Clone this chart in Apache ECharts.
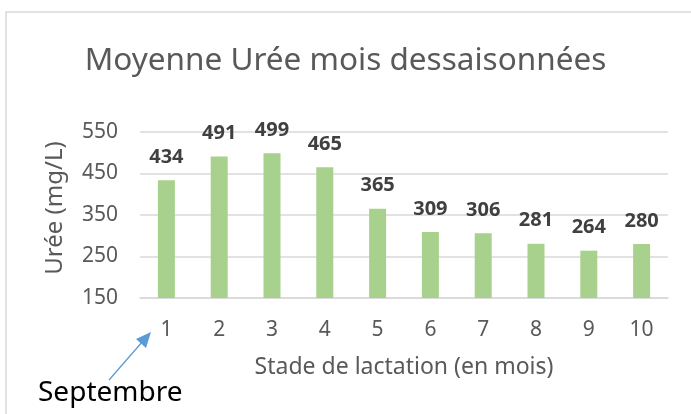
<!DOCTYPE html>
<html lang="fr">
<head>
    <meta charset="UTF-8">
    <title>Moyenne Urée mois dessaisonnées</title>
    <script src="https://cdn.jsdelivr.net/npm/echarts@6/dist/echarts.min.js"></script>
</head>
<body style="margin:0;background:#fff;">
<div id="uree" style="width:691px;height:414px;"></div>
<script>
    // données
    var mois = ['1', '2', '3', '4', '5', '6', '7', '8', '9', '10'];
    var uree = [434, 491, 499, 465, 365, 309, 306, 281, 264, 280];

    var myChart = echarts.init(document.getElementById('uree'));
    var font = '"Noto Sans", "Open Sans", sans-serif';
    var option = {
        animation: false,
        textStyle: { fontFamily: font },
        title: {
            text: 'Moyenne Urée mois dessaisonnées',
            left: 'center',
            top: 40,
            textStyle: { fontSize: 31.5, fontWeight: 'normal', color: '#595959', fontFamily: font }
        },
        grid: { left: 140, right: 23, top: 132, bottom: 116 },
        xAxis: {
            type: 'category',
            data: mois,
            name: 'Stade de lactation (en mois)',
            nameLocation: 'middle',
            nameGap: 58,
            nameTextStyle: { fontSize: 23, color: '#595959' },
            axisLine: { lineStyle: { color: '#D9D9D9', width: 1.5 } },
            axisTick: { show: false },
            axisLabel: { fontSize: 21, color: '#595959', margin: 22 }
        },
        yAxis: {
            type: 'value',
            min: 150,
            max: 550,
            interval: 100,
            name: 'Urée (mg/L)',
            nameLocation: 'middle',
            nameGap: 73,
            nameTextStyle: { fontSize: 24, color: '#595959', padding: [0, 0, 0, 14] },
            axisLine: { show: false },
            axisTick: { show: false },
            axisLabel: { fontSize: 21, color: '#595959', margin: 22 },
            splitLine: { lineStyle: { color: '#D9D9D9', width: 1.5 } }
        },
        series: [{
            type: 'bar',
            data: uree,
            barWidth: 17,
            itemStyle: { color: '#A9D18E' },
            label: {
                show: true,
                position: 'top',
                distance: 13,
                fontSize: 20,
                fontWeight: 'bold',
                color: '#404040'
            }
        }],
        graphic: [
            {   // cadre du graphique
                type: 'polyline',
                shape: { points: [[6, 414], [6, 12], [691, 12]] },
                style: { stroke: '#D9D9D9', lineWidth: 1.5, fill: null }
            },
            {   // flèche vers le mois 1
                type: 'line',
                shape: { x1: 109, y1: 380, x2: 143, y2: 341 },
                style: { stroke: '#5B9BD5', lineWidth: 1.3 }
            },
            {
                type: 'polygon',
                shape: { points: [[151, 332], [136, 339], [146, 348]] },
                style: { fill: '#5B9BD5' }
            },
            {
                type: 'text',
                left: 38,
                top: 379,
                style: { text: 'Septembre', fontSize: 28, fill: '#000', fontFamily: font }
            }
        ]
    };
    myChart.setOption(option);
</script>
</body>
</html>
